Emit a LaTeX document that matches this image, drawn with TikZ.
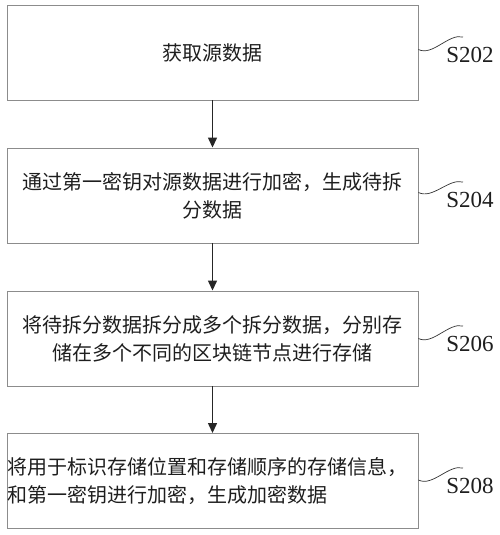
\documentclass[tikz,border=0pt]{standalone}
\usepackage{fontspec}
\usepackage{tikz}
\usetikzlibrary{arrows.meta,positioning,calc}
\newfontfamily\cjk{Noto Sans CJK SC}
\newfontfamily\labelfont{Liberation Serif}
\definecolor{boxgray}{HTML}{8C8C8C}
\definecolor{inkgray}{HTML}{1E1E1E}

\begin{document}
\begin{tikzpicture}[
    x=1pt, y=-1pt,
    >=Stealth,
    box/.style={draw=boxgray, line width=0.9pt, minimum width=411pt, minimum height=95pt,
                align=center, text=inkgray, font=\fontsize{20}{28}\selectfont\cjk},
    arrow/.style={-{Triangle[length=10pt,width=9pt]}, line width=1.3pt, draw=black!85},
    steplabel/.style={inner sep=0pt, text=inkgray, font=\fontsize{23}{23}\selectfont\labelfont},
    squiggle/.style={draw=black!80, line width=0.7pt}
]
\useasboundingbox (0,0) rectangle (500,535);

% ---- Steps ----
\node[box] (acquire) at (212.5, 52.5) {获取源数据};
\node[box] (encrypt) at (212.5, 195.5) {通过第一密钥对源数据进行加密，生成待拆\\分数据};
\node[box] (split) at (212.5, 338.5) {将待拆分数据拆分成多个拆分数据，分别存\\储在多个不同的区块链节点进行存储};
\node[box, text width=411pt, align=left, inner xsep=0pt] (seal) at (212.5, 481) {将用于标识存储位置和存储顺序的存储信息，\\和第一密钥进行加密，生成加密数据};

% ---- Step labels ----
\node[steplabel] (s202) at (470, 55) {S202};
\node[steplabel] (s204) at (470, 200) {S204};
\node[steplabel] (s206) at (470, 344) {S206};
\node[steplabel] (s208) at (470, 486) {S208};

% ---- Flow arrows ----
\draw[arrow] (acquire) -- (encrypt);
\draw[arrow] (encrypt) -- (split);
\draw[arrow] (split) -- (seal);

% ---- Label leaders ----
\draw[squiggle] ([yshift=3pt]acquire.east) .. controls +(14,7) and +(-14,-4) .. ([xshift=-7pt,yshift=10pt]s202.north);
\draw[squiggle] ([yshift=3pt]encrypt.east) .. controls +(14,7) and +(-14,-4) .. ([xshift=-7pt,yshift=10pt]s204.north);
\draw[squiggle] ([yshift=0pt]split.east) .. controls +(14,7) and +(-14,-4) .. ([xshift=-7pt,yshift=10pt]s206.north);
\draw[squiggle] ([yshift=1pt]seal.east) .. controls +(14,7) and +(-14,-4) .. ([xshift=-7pt,yshift=10pt]s208.north);

\end{tikzpicture}
\end{document}
